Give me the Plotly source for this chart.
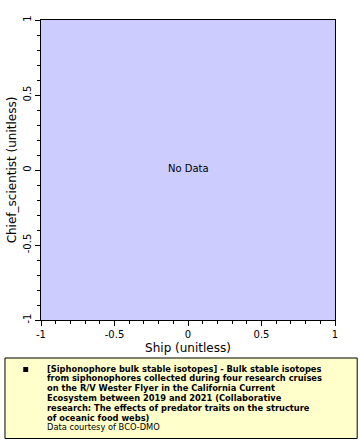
import plotly.graph_objects as go

# Data (the reference has no data points)
ship = []
chief_scientist = []

x_ticks = [-1, -0.5, 0, 0.5, 1]
x_tick_labels = ["-1", "-0.5", "0", "0.5", "1"]
y_ticks = [-1, -0.5, 0, 0.5, 1]
y_tick_labels = ["-1", "-0.5", "0", "0.5", "1"]

legend_lines = [
    "[Siphonophore bulk stable isotopes] - Bulk stable isotopes",
    "from siphonophores collected during four research cruises",
    "on the R/V Wester Flyer in the California Current",
    "Ecosystem between 2019 and 2021 (Collaborative",
    "research: The effects of predator traits on the structure",
    "of oceanic food webs)",
]
courtesy = "Data courtesy of BCO-DMO"

W, H = 360, 440
L, R, T, B = 37, 25, 20, 120
PW, PH = W - L - R, H - T - B


def px(x):
    return (x - L) / PW


def py(y):
    return (H - B - y) / PH


FONT = "DejaVu Sans"

fig = go.Figure()
fig.add_trace(go.Scatter(x=ship, y=chief_scientist, mode="markers",
                         marker=dict(color="black", size=5, symbol="square"),
                         showlegend=False))

axis_common = dict(
    range=[-1, 1], showline=True, linecolor="black", linewidth=1, mirror=True,
    ticks="outside", ticklen=5, tickcolor="black", tickwidth=1,
    showgrid=False, zeroline=False,
    tickfont=dict(family=FONT, size=10, color="black"),
    minor=dict(ticks="outside", ticklen=3, dtick=0.1, tickcolor="black", showgrid=False),
)

fig.update_layout(
    width=W, height=H,
    margin=dict(l=L, r=R, t=T, b=B),
    paper_bgcolor="white", plot_bgcolor="#ccccff",
    font=dict(family=FONT, color="black"),
    showlegend=False,
    xaxis=dict(**axis_common, tickvals=x_ticks, ticktext=x_tick_labels,
               title=dict(text="Ship (unitless)", font=dict(family=FONT, size=12, color="black"), standoff=4)),
    yaxis=dict(**axis_common, tickvals=y_ticks, ticktext=y_tick_labels, tickangle=-90,
               title=dict(text="Chief_scientist (unitless)", font=dict(family=FONT, size=12, color="black"), standoff=2)),
)

fig.add_annotation(x=0, y=0, xref="x", yref="y", text="No Data", showarrow=False,
                   yshift=2, font=dict(family=FONT, size=10, color="black"))

# Legend box
fig.add_shape(type="rect", xref="paper", yref="paper",
              x0=px(0.5), x1=px(357.5), y0=py(358), y1=py(438.5),
              line=dict(color="black", width=1), fillcolor="#ffffcc", layer="below")
fig.add_shape(type="rect", xref="paper", yref="paper",
              x0=px(19), x1=px(24), y0=py(367), y1=py(372),
              line=dict(color="black", width=0), fillcolor="black")

line_y0 = 368.5
step = 9.8
for i, t in enumerate(legend_lines):
    fig.add_annotation(x=px(42.5), y=py(line_y0 + i * step), xref="paper", yref="paper",
                       text="<b>" + t + "</b>", showarrow=False, xanchor="left", yanchor="middle",
                       borderpad=0, font=dict(family=FONT, size=8.3, color="black"))
fig.add_annotation(x=px(42.5), y=py(line_y0 + len(legend_lines) * step), xref="paper", yref="paper",
                   text=courtesy, showarrow=False, xanchor="left", yanchor="middle",
                   borderpad=0, font=dict(family=FONT, size=8.3, color="black"))

fig.write_html("out.html")
